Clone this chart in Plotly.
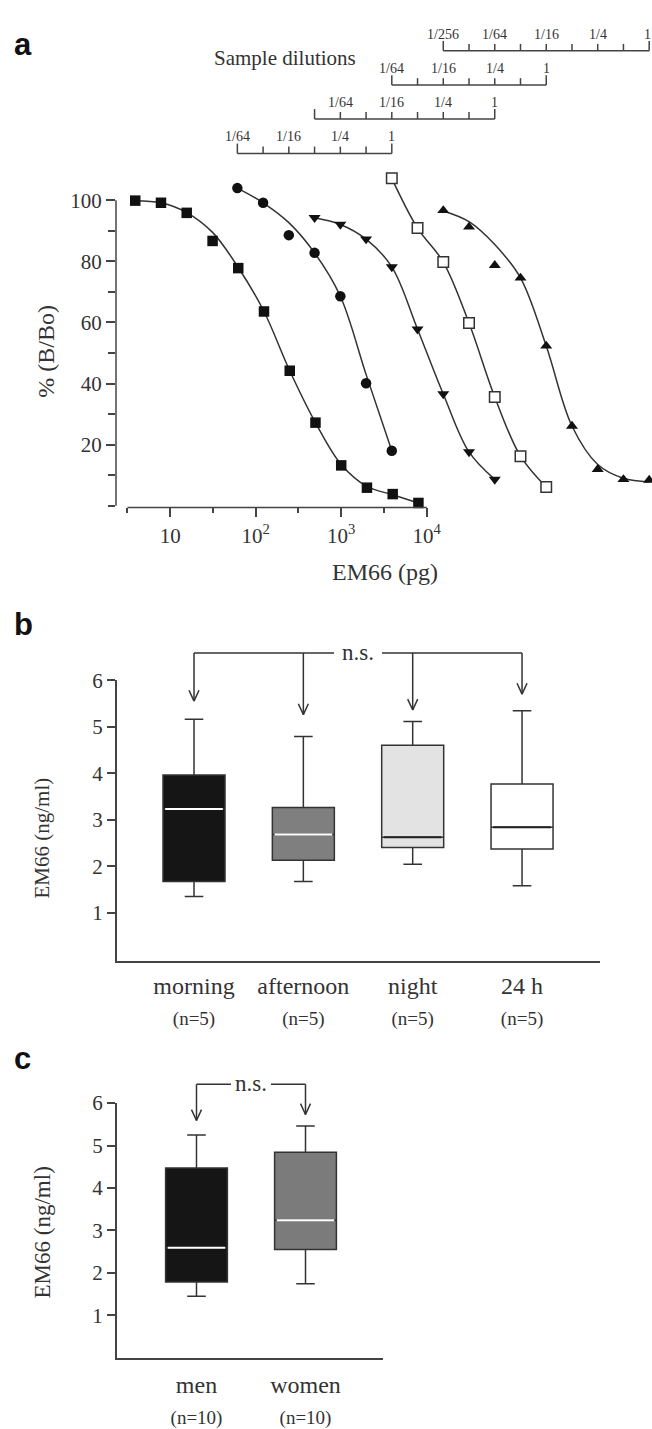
import math
import plotly.graph_objects as go

W, H = 652, 1429
SERIF = "Liberation Serif"
SANS = "Liberation Sans"
INK = "#333333"

# ---------------- Panel a : competition curves ----------------
std_x = [3.9, 7.8, 15.6, 31.3, 62.5, 125, 250, 500, 1000, 2000, 4000, 8000]
std_y = [99.9, 99.2, 95.9, 86.7, 77.8, 63.6, 44.2, 27.2, 13.2, 5.9, 3.8, 0.9]
std_fit = [99.9, 99.2, 96.0, 89.5, 78.0, 63.6, 44.2, 27.2, 13.5, 6.3, 3.6, 0.9]

s1_x = [61, 122, 244, 488, 977, 1953, 3906]
s1_y = [104.0, 99.2, 88.6, 82.8, 68.6, 40.1, 18.0]
s1_fit = [104.0, 99.2, 92.7, 82.8, 68.6, 43.0, 18.0]

s2_x = [488, 977, 1953, 3906, 7813, 15625, 31250, 62500]
s2_y = [94.3, 92.1, 87.3, 78.2, 57.8, 36.6, 17.6, 8.6]
s2_fit = [94.3, 92.1, 87.3, 78.2, 57.8, 36.6, 17.6, 8.6]

s3_x = [3906, 7813, 15625, 31250, 62500, 125000, 250000]
s3_y = [107.2, 90.9, 79.8, 59.8, 35.6, 16.2, 6.1]
s3_fit = [107.2, 90.9, 79.8, 59.8, 35.6, 16.2, 6.1]

s4_x = [15625, 31250, 62500, 125000, 250000, 500000, 1000000, 2000000, 4000000]
s4_y = [96.7, 91.3, 78.7, 74.6, 52.3, 26.1, 11.9, 8.6, 8.4]
s4_fit = [96.5, 93.0, 85.5, 74.6, 52.3, 26.1, 13.5, 9.0, 7.8]

a_xtick_vals = [10, 100, 1000, 10000]
a_xtick_text = ["10", "10<sup>2</sup>", "10<sup>3</sup>", "10<sup>4</sup>"]
a_xminor_vals = [10 ** 0.5, 10 ** 1.5, 10 ** 2.5, 10 ** 3.5]
a_ytick_vals = [20, 40, 60, 80, 100]
a_yminor_vals = [0, 10, 30, 50, 70, 90]

dil_labels_long = ["1/256", "1/64", "1/16", "1/4", "1"]
dil_values_long = [1 / 256, 1 / 64, 1 / 16, 1 / 4, 1]
dil_labels = ["1/64", "1/16", "1/4", "1"]
dil_values = [1 / 64, 1 / 16, 1 / 4, 1]

# ---------------- Panel b : time of day ----------------
b_cats = ["morning", "afternoon", "night", "24 h"]
b_n = ["(n=5)", "(n=5)", "(n=5)", "(n=5)"]
b_low = [1.35, 1.67, 2.04, 1.58]
b_q1 = [1.67, 2.13, 2.40, 2.37]
b_med = [3.23, 2.68, 2.62, 2.84]
b_q3 = [3.96, 3.26, 4.60, 3.77]
b_high = [5.16, 4.79, 5.11, 5.34]
b_fill = ["#151515", "#7f7f7f", "#e3e3e3", "#ffffff"]
b_medcolor = ["#ffffff", "#ffffff", "#222222", "#222222"]
b_arrow_tip = [5.55, 5.26, 5.36, 5.70]

# ---------------- Panel c : sex ----------------
c_cats = ["men", "women"]
c_n = ["(n=10)", "(n=10)"]
c_low = [1.45, 1.74]
c_q1 = [1.78, 2.55]
c_med = [2.59, 3.24]
c_q3 = [4.47, 4.84]
c_high = [5.25, 5.46]
c_fill = ["#151515", "#7b7b7b"]
c_medcolor = ["#ffffff", "#ffffff"]
c_arrow_tip = [5.59, 5.73]

# ---------------- geometry (pixels) ----------------
A_X = (116.0, 652.0); A_XR = (0.366, 6.635)          # log10 range
A_Y = (501.7, 159.8); A_YR = (-0.55, 110.0)
B_X = (116.7, 600.0); B_XR = (-0.707, 3.713)
B_Y = (960.7, 676.7); B_YR = (-0.03, 6.0)
C_X = (116.7, 383.0); C_XR = (-0.732, 1.711)
C_Y = (1363.5, 1105.0); C_YR = (-0.016, 6.0)
BOXW = 0.567


def lin(v, dom, rng):
    return dom[0] + (v - rng[0]) / (rng[1] - rng[0]) * (dom[1] - dom[0])


def px(x):
    return x / W


def py(y):
    return 1 - y / H


def xdom(d):
    return [d[0] / W, d[1] / W]


def ydom(d):
    return [1 - d[0] / H, 1 - d[1] / H]


def xa(v):
    return lin(math.log10(v), A_X, A_XR)


def ya(v):
    return lin(v, A_Y, A_YR)


fig = go.Figure()
shapes = []
annos = []


def seg(x0, y0, x1, y1, color="#444444", width=1.5):
    shapes.append(dict(type="line", xref="paper", yref="paper",
                       x0=px(x0), y0=py(y0), x1=px(x1), y1=py(y1),
                       line=dict(color=color, width=width)))


def text(x, y, s, size, family=SERIF, color=INK, angle=0, xanchor="center"):
    annos.append(dict(x=px(x), y=py(y), xref="paper", yref="paper", text=s,
                      showarrow=False, textangle=angle, xanchor=xanchor,
                      yanchor="middle", font=dict(family=family, size=size, color=color)))


# ---- panel a traces
series = [
    (std_x, std_y, std_fit, dict(symbol="square", size=10.5, color="#111111")),
    (s1_x, s1_y, s1_fit, dict(symbol="circle", size=10.5, color="#111111")),
    (s2_x, s2_y, s2_fit, dict(symbol="triangle-down", size=10.5, color="#111111")),
    (s3_x, s3_y, s3_fit, dict(symbol="square", size=10.5, color="#ffffff",
                              line=dict(color="#333333", width=1.5))),
    (s4_x, s4_y, s4_fit, dict(symbol="triangle-up", size=10.5, color="#111111")),
]
for sx, sy, sf, mk in series:
    fig.add_trace(go.Scatter(x=sx, y=sf, mode="lines", line=dict(color=INK, width=1.5, shape="spline", smoothing=1.0),
                             xaxis="x", yaxis="y", showlegend=False, hoverinfo="skip"))
for sx, sy, sf, mk in series:
    fig.add_trace(go.Scatter(x=sx, y=sy, mode="markers", marker=mk, cliponaxis=False,
                             xaxis="x", yaxis="y", showlegend=False))

# axis lines of panel a
seg(A_X[0], ya(0), A_X[0], ya(100))
seg(xa(a_xminor_vals[0]), A_Y[0], xa(a_xtick_vals[-1]), A_Y[0])

# dilution rulers
rulers = [(s4_x, 39.3, dil_labels_long, dil_values_long),
          (s3_x, 74.0, dil_labels, dil_values),
          (s2_x, 108.3, dil_labels, dil_values),
          (s1_x, 143.3, dil_labels, dil_values)]
for sx, ry, labs, vals in rulers:
    seg(xa(sx[0]), ry, xa(sx[-1]), ry)
    for i, v in enumerate(sx):
        tl = 10 if i in (0, len(sx) - 1) else 7
        seg(xa(v), ry, xa(v), ry - tl)
    for lab, d in zip(labs, vals):
        lx = min(xa(sx[-1] * d), W - 5)
        text(lx, ry - 17, lab, 14)

text(285, 46.7, "Sample dilutions", 21)
text(385, 567, "EM66 (pg)", 24)
text(46, 344, "% (B/Bo)", 24, angle=-90)
text(12, 33, "<b>a</b>", 31, family=SANS, color="#111111", xanchor="left")

# ---- boxes
def add_boxes(cats, low, q1, med, q3, high, fills, medc, xax, yax):
    for i in range(len(cats)):
        fig.add_trace(go.Box(x=[i], q1=[q1[i]], median=[med[i]], q3=[q3[i]],
                             lowerfence=[low[i]], upperfence=[high[i]],
                             width=BOXW, whiskerwidth=0.3, fillcolor=fills[i],
                             line=dict(color="#333333", width=1.5), boxpoints=False,
                             xaxis=xax, yaxis=yax, showlegend=False, hoverinfo="skip"))
        fig.add_trace(go.Scatter(x=[i - BOXW / 2 + 0.02, i + BOXW / 2 - 0.02], y=[med[i], med[i]],
                                 mode="lines", line=dict(color=medc[i], width=2),
                                 xaxis=xax, yaxis=yax, showlegend=False, hoverinfo="skip"))


add_boxes(b_cats, b_low, b_q1, b_med, b_q3, b_high, b_fill, b_medcolor, "x2", "y2")
add_boxes(c_cats, c_low, c_q1, c_med, c_q3, c_high, c_fill, c_medcolor, "x3", "y3")


def bracket(tips, XD, XR, YD, YR, ybr, gap_center, gap_half):
    xs = [lin(i, XD, XR) for i in range(len(tips))]
    gx = lin(gap_center, XD, XR)
    seg(xs[0], ybr, gx - gap_half, ybr, color=INK)
    seg(gx + gap_half, ybr, xs[-1], ybr, color=INK)
    for x, t in zip(xs, tips):
        ty = lin(t, YD, YR)
        seg(x, ybr, x, ty, color=INK)
        seg(x - 5, ty - 11, x, ty, color=INK)
        seg(x + 5, ty - 11, x, ty, color=INK)
    text(gx, ybr - 1, "n.s.", 23)


bracket(b_arrow_tip, B_X, B_XR, B_Y, B_YR, 649.3, 1.5, 24)
bracket(c_arrow_tip, C_X, C_XR, C_Y, C_YR, 1086.0, 0.5, 20)

text(42, 837, "EM66 (ng/ml)", 21, angle=-90)
text(42, 1236, "EM66 (ng/ml)", 23, angle=-90)
text(12, 620, "<b>b</b>", 31, family=SANS, color="#111111", xanchor="left")
text(12, 1060, "<b>c</b>", 31, family=SANS, color="#111111", xanchor="left")

tickfont = dict(family=SERIF, size=21, color=INK)
catfont = dict(family=SERIF, size=24, color=INK)


def cat_text(cats, ns):
    return [f"{c}<br><span style='font-size:19px'>{n}</span>" for c, n in zip(cats, ns)]


fig.update_layout(
    width=W, height=H, margin=dict(l=0, r=0, t=0, b=0),
    paper_bgcolor="white", plot_bgcolor="white", showlegend=False,
    xaxis=dict(domain=xdom(A_X), type="log", range=list(A_XR), anchor="y",
               tickmode="array", tickvals=a_xtick_vals, ticktext=a_xtick_text,
               ticks="outside", ticklen=9, tickwidth=1.5, tickcolor="#444444",
               minor=dict(tickmode="array", tickvals=a_xminor_vals, ticks="outside",
                          ticklen=5, tickwidth=1.5, tickcolor="#444444"),
               showline=False, showgrid=False, zeroline=False, tickfont=tickfont),
    yaxis=dict(domain=ydom(A_Y), range=list(A_YR), anchor="x",
               tickmode="array", tickvals=a_ytick_vals,
               ticks="outside", ticklen=9, tickwidth=1.5, tickcolor="#444444",
               minor=dict(tickmode="array", tickvals=a_yminor_vals, ticks="outside",
                          ticklen=7, tickwidth=1.5, tickcolor="#444444"),
               showline=False, showgrid=False, zeroline=False, tickfont=tickfont),
    xaxis2=dict(domain=xdom(B_X), range=list(B_XR), anchor="y2",
                tickmode="array", tickvals=list(range(len(b_cats))), ticktext=cat_text(b_cats, b_n),
                ticks="outside", ticklen=3, tickcolor="rgba(0,0,0,0)",
                showline=True, linecolor="#444444", linewidth=1.5,
                showgrid=False, zeroline=False, tickfont=catfont),
    yaxis2=dict(domain=ydom(B_Y), range=list(B_YR), anchor="x2",
                tickmode="array", tickvals=[1, 2, 3, 4, 5, 6],
                ticks="outside", ticklen=8, tickwidth=1.5, tickcolor="#444444",
                showline=True, linecolor="#444444", linewidth=1.5,
                showgrid=False, zeroline=False, tickfont=tickfont),
    xaxis3=dict(domain=xdom(C_X), range=list(C_XR), anchor="y3",
                tickmode="array", tickvals=list(range(len(c_cats))), ticktext=cat_text(c_cats, c_n),
                ticks="outside", ticklen=4, tickcolor="rgba(0,0,0,0)",
                showline=True, linecolor="#444444", linewidth=1.5,
                showgrid=False, zeroline=False, tickfont=catfont),
    yaxis3=dict(domain=ydom(C_Y), range=list(C_YR), anchor="x3",
                tickmode="array", tickvals=[1, 2, 3, 4, 5, 6],
                ticks="outside", ticklen=8, tickwidth=1.5, tickcolor="#444444",
                showline=True, linecolor="#444444", linewidth=1.5,
                showgrid=False, zeroline=False, tickfont=tickfont),
    shapes=shapes, annotations=annos,
)

fig.write_html("out.html", config={"displayModeBar": False},
               post_script="document.body.style.margin='0';document.body.style.overflow='hidden';")
